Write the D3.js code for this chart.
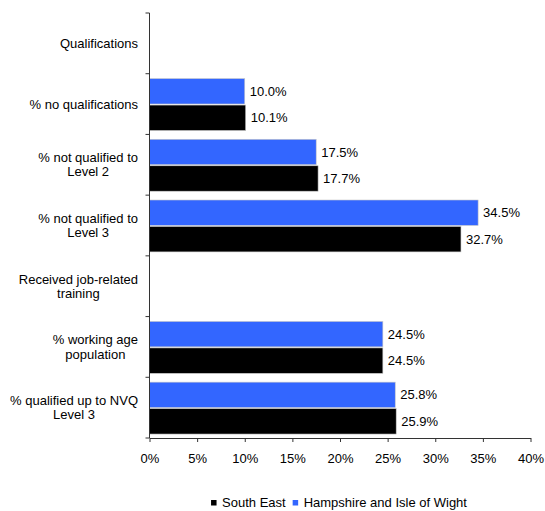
<!DOCTYPE html>
<html>
<head>
<meta charset="utf-8">
<script src="https://cdn.jsdelivr.net/npm/d3@7"></script>
<style>
  html, body { margin: 0; padding: 0; background: #fff; }
  svg { display: block; font-family: "Liberation Sans", Arial, sans-serif; }
</style>
</head>
<body>
<svg id="chart" width="545" height="511"></svg>
<script>
// Category labels (wrapped lines), top to bottom
const categoryLines = [
  ["Qualifications"],
  ["% no qualifications"],
  ["% not qualified to", "Level 2"],
  ["% not qualified to", "Level 3"],
  ["Received job-related", "training"],
  ["% working age", "population"],
  ["% qualified up to NVQ", "Level 3"]
];
const categories = categoryLines.map(l => l.join(" "));

// Series values (percent); heading rows have no bars
const seriesNames = ["Hampshire and Isle of Wight", "South East"];
const hampshire = [null, 10.0, 17.5, 34.5, null, 24.5, 25.8];
const southEast = [null, 10.1, 17.7, 32.7, null, 24.5, 25.9];
const seriesColors = ["#3366FF", "#000000"];

const xTicks = [0, 5, 10, 15, 20, 25, 30, 35, 40];

(function draw() {
  const svg = d3.select("#chart");
  const plotLeft = 149.5, plotRight = 530.5, plotTop = 13, plotBottom = 438;
  const fontSize = 13;

  const x = d3.scaleLinear().domain([0, 40]).range([plotLeft, plotRight]);
  const y = d3.scaleBand().domain(categories).range([plotTop, plotBottom]).padding(0);
  const bw = y.bandwidth();
  const inner = d3.scaleBand().domain(seriesNames)
    .range([bw * 0.08, bw * 0.935]).paddingInner(0.04);

  const rows = [];
  categories.forEach((c, i) => {
    [hampshire, southEast].forEach((arr, s) => {
      if (arr[i] != null) rows.push({ cat: c, series: seriesNames[s], value: arr[i], color: seriesColors[s] });
    });
  });

  // Bars
  svg.append("g").selectAll("rect").data(rows).join("rect")
    .attr("x", x(0))
    .attr("y", d => y(d.cat) + inner(d.series))
    .attr("width", d => x(d.value) - x(0))
    .attr("height", inner.bandwidth())
    .attr("fill", d => d.color)
    .attr("stroke", "#c8c8c8")
    .attr("stroke-width", 0.6);

  // Value labels
  svg.append("g").selectAll("text").data(rows).join("text")
    .attr("x", d => x(d.value) + 5)
    .attr("y", d => y(d.cat) + inner(d.series) + inner.bandwidth() / 2)
    .attr("dy", "0.35em")
    .attr("font-size", fontSize)
    .attr("fill", "#000")
    .text(d => d.value.toFixed(1) + "%");

  // X axis
  const xAxis = svg.append("g").attr("transform", `translate(0,${plotBottom})`)
    .call(d3.axisBottom(x).tickValues(xTicks).tickSize(4).tickSizeOuter(0)
      .tickFormat(d => d + "%"));
  xAxis.select(".domain").attr("stroke", "#333");
  xAxis.selectAll(".tick line").attr("stroke", "#333");
  xAxis.selectAll(".tick text").attr("font-size", fontSize).attr("fill", "#000")
    .attr("font-family", "Liberation Sans, Arial, sans-serif")
    .attr("y", 15.5);

  // Y axis line and ticks at band boundaries
  const gy = svg.append("g");
  gy.append("line").attr("x1", plotLeft).attr("x2", plotLeft)
    .attr("y1", plotTop).attr("y2", plotBottom).attr("stroke", "#333");
  const bounds = categories.map(c => y(c)).concat([plotBottom]);
  gy.selectAll("line.tk").data(bounds).join("line").attr("class", "tk")
    .attr("x1", plotLeft - 4).attr("x2", plotLeft).attr("y1", d => d).attr("y2", d => d)
    .attr("stroke", "#333");

  // Category labels: block right-aligned, lines centred within block
  const labelRight = 138;
  const lineH = 14.3;
  categoryLines.forEach((lines, i) => {
    const g = svg.append("g");
    const texts = lines.map((t, j) => g.append("text")
      .attr("font-size", fontSize).attr("fill", "#000")
      .attr("text-anchor", "middle")
      .attr("dy", "0.35em")
      .attr("y", y(categories[i]) + bw / 2 + (j - (lines.length - 1) / 2) * lineH)
      .text(t));
    const maxW = d3.max(texts, t => t.node().getComputedTextLength());
    texts.forEach(t => t.attr("x", labelRight - maxW / 2));
  });

  // Legend
  const legendItems = [
    { name: "South East", color: "#000000" },
    { name: "Hampshire and Isle of Wight", color: "#3366FF" }
  ];
  const lg = svg.append("g");
  let cx = 0;
  const ly = 502.5;
  legendItems.forEach(it => {
    lg.append("rect").attr("x", cx).attr("y", ly - 2.5).attr("width", 5.5).attr("height", 5.5)
      .attr("fill", it.color);
    const t = lg.append("text").attr("x", cx + 11).attr("y", ly).attr("dy", "0.35em")
      .attr("font-size", fontSize).attr("fill", "#000").text(it.name);
    cx += 11 + t.node().getComputedTextLength() + 7;
  });
  const lw = cx - 7;
  lg.attr("transform", `translate(${(plotLeft + plotRight) / 2 - lw / 2 - 1},0)`);
})();
</script>
</body>
</html>
